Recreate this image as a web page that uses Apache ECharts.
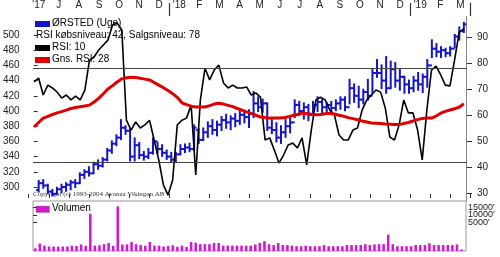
<!DOCTYPE html>
<html><head><meta charset="utf-8">
<script src="https://cdn.jsdelivr.net/npm/echarts@6/dist/echarts.min.js"></script>
<style>html,body{margin:0;padding:0;background:#fff}#c{width:500px;height:257px}</style>
</head><body><div id="c"></div>
<script>
// ---- data ----
const monthLabels = ["'17","J","A","S","O","N","D","'18","F","M","A","M","J","J","A","S","O","N","D","'19","F","M"];
const priceOpen  = [296,305,302,294,291,297,300,303,306,305,316,320,318,330,328,336,348,357,365,378,374,340,355,342,340,345,360,350,345,340,336,343,350,352,350,375,362,372,380,375,382,388,385,390,387,395,392,396,410,405,410,378,375,365,372,380,385,408,400,405,395,408,412,405,408,404,410,415,405,430,420,415,425,420,450,450,440,430,455,440,445,435,430,440,435,445,460,482,478,480,476,482,498,505];
const priceHigh  = [308,309,303,296,299,303,305,308,309,318,322,326,332,335,338,350,360,368,388,380,376,364,358,346,350,364,358,355,348,345,345,355,356,357,381,376,377,385,388,386,392,395,393,396,399,400,401,425,418,415,410,388,384,380,388,390,414,412,410,408,412,418,415,410,412,414,418,418,441,435,432,428,441,454,467,460,471,465,463,455,445,440,445,450,448,467,493,488,484,482,484,500,510,516];
const priceLow   = [294,299,292,289,291,293,295,297,300,305,312,315,318,324,327,335,345,355,363,370,335,335,338,336,338,344,345,341,337,333,334,343,346,347,349,358,362,366,370,368,375,378,376,380,383,385,379,392,400,399,375,371,360,358,366,372,392,395,390,388,395,400,398,399,400,401,403,401,410,412,405,410,415,424,445,430,424,430,432,428,424,424,426,428,425,432,471,472,471,472,473,484,494,504];
const priceClose = [305,302,294,291,297,300,303,306,305,316,320,318,330,328,336,348,357,365,378,374,340,355,342,340,345,360,350,345,340,336,343,350,352,350,378,362,372,380,375,382,388,385,390,387,395,392,396,410,405,410,378,375,365,372,380,385,408,400,405,395,408,412,405,408,404,410,415,405,430,420,415,425,420,450,450,440,430,455,440,445,435,430,440,435,445,460,482,478,480,476,482,498,505,514];
const rsi10 = [72.7,74.2,67.7,71.5,70.4,68.8,66.5,67.7,65.8,67.3,65.8,69.6,81,82.3,85,86.9,88.8,94.6,95.4,92.7,58,54.2,57.3,55,56.2,58,50.4,42.7,33.1,29.2,35,56.2,58,58.8,63.8,36.9,65.8,78,73.5,77.3,79.2,72.3,70.4,71.5,70.4,70.4,70.8,67.7,68.5,66.9,50.4,51.2,46.5,41.5,44.6,48.5,49.2,47.3,51.2,40.8,54.2,65.8,66.9,65.8,61.9,60,52.3,50.4,50.4,54.2,55,61.9,65.8,67.7,69.6,68.8,62.7,51.5,50.4,56.2,65.8,60.8,60.8,54.2,42.7,61.9,77.3,78.8,75.4,71.5,71.2,81.2,91.9,93.1];
const rsiAvg28 = [55.4,57.1,58.8,59.5,60.2,60.8,61.3,61.9,62.5,62.9,63.2,63.5,63.8,65,66.4,68.2,70,71.3,72.7,73.9,74.3,74.5,74.4,74.1,73.8,73.5,72.5,71.5,70.5,69.4,68.2,66.8,64.7,64,63.4,63.1,63.1,63.1,63.6,64.2,64.5,64.2,63.7,63.2,62.5,61.9,61.2,60.6,59.9,59.2,59,58.8,58.8,58.8,58.9,59.3,59.8,60.2,60.7,60.6,60.3,60.1,60.2,60.5,60.7,60.4,59.9,59.5,59,58.6,58.2,57.7,57.3,56.9,56.8,56.7,56.5,56.4,56.3,56.3,56.7,57.1,57.7,58.2,58.7,58.8,58.8,59.6,60.7,61.4,61.9,62.4,63,64.3];
const volume = [900,2500,1800,1500,1500,1500,1500,1500,1800,1700,2200,1700,12500,1800,1900,2300,2700,1700,15000,2200,2200,3000,2300,2000,1800,3000,1800,1800,1500,1700,1900,1400,1800,1400,3000,2800,2300,2300,2300,2700,2700,1800,1800,1800,1800,1800,1800,1800,2200,2700,3300,2300,2000,2700,2000,2000,1800,1600,1600,1800,1600,1600,1600,2000,1600,1600,1600,1600,2000,2000,2000,2000,2300,2000,2200,2300,2300,5500,2300,1600,1600,1600,1600,2000,2000,2000,2600,2000,2000,2000,2000,2000,2200,500];
const buyLevel = 42, sellLevel = 78;
const volTickLabels = ["5000'", "10000'", "15000'"];

// ---- build ----
const DAY = 86400000;
const t0 = Date.UTC(2017,5,9);
const dates = priceClose.map((_, i) => t0 + i * 7 * DAY);
const xMin = Date.UTC(2017,5,1) + 6.5 * DAY;
const xMax = Date.UTC(2017,5,1) + 663.8 * DAY;
const ohlc = dates.map((d, i) => [d, priceOpen[i], priceHigh[i], priceLow[i], priceClose[i]]);
const rsiData = dates.map((d, i) => [d, rsi10[i]]);
const avgData = dates.map((d, i) => [d, rsiAvg28[i]]);
const volData = dates.map((d, i) => [d, volume[i]]);
const last = dates.length - 1;

const FONT = 'Liberation Sans, Arial, sans-serif';
const BLUE = '#1414c8';
const chart = echarts.init(document.getElementById('c'), null, {renderer: 'canvas'});
const hiddenTime = (gi) => ({type: 'time', gridIndex: gi, min: xMin, max: xMax, show: false});

chart.setOption({
  animation: false,
  backgroundColor: '#fff',
  grid: [
    {left: 28.7, right: 29.6, top: 16, height: 182, show: false},            // 0 month axis
    {left: 33, right: 33, top: 35, height: 152, show: false},                // 1 price
    {left: 33, right: 33, top: 37, height: 156, show: false},                // 2 rsi
    {left: 33, right: 34, top: 201, height: 50, show: true, borderColor: '#999', borderWidth: 1}, // 3 volume
    {left: 33, right: 34, top: 207.5, height: 15, show: false}               // 4 volume labels
  ],
  xAxis: [
    {type: 'category', gridIndex: 0, position: 'top', data: monthLabels, boundaryGap: true,
     axisLine: {show: false}, axisTick: {show: true, length: 4, lineStyle: {color: '#333'}},
     axisLabel: {fontSize: 10, color: '#222', fontFamily: FONT, margin: 6}},
    {type: 'category', gridIndex: 0, position: 'top', data: monthLabels, boundaryGap: true,
     axisLine: {show: false}, axisLabel: {show: false},
     axisTick: {show: true, length: 13, interval: (i, v) => v.charAt(0) === "'" && i > 0, lineStyle: {color: '#333', width: 1.2}}},
    hiddenTime(1), hiddenTime(2), hiddenTime(3),
    {type: 'value', gridIndex: 4, show: false}
  ],
  yAxis: [
    {type: 'value', gridIndex: 0, show: false},
    {type: 'value', gridIndex: 1, position: 'left', min: 300, max: 500, interval: 20,
     axisLine: {show: false}, splitLine: {show: false},
     axisTick: {show: true, length: 4, lineStyle: {color: '#333'}},
     axisLabel: {fontSize: 10, color: '#222', fontFamily: FONT, margin: 18}},
    {type: 'value', gridIndex: 2, position: 'right', min: 30, max: 90, interval: 10,
     axisLine: {show: false}, splitLine: {show: false},
     axisTick: {show: true, length: 5, lineStyle: {color: '#333'}},
     axisLabel: {fontSize: 10, color: '#222', fontFamily: FONT, margin: 10}},
    {type: 'value', gridIndex: 3, min: 0, max: 16800, show: false},
    {type: 'category', gridIndex: 4, position: 'right', data: volTickLabels, boundaryGap: false,
     axisLine: {show: false}, splitLine: {show: false},
     axisTick: {show: true, length: 4, interval: 0, alignWithLabel: true, lineStyle: {color: '#333'}},
     axisLabel: {fontSize: 9, color: '#222', fontFamily: FONT, margin: 2, interval: 0, hideOverlap: false}}
  ],
  series: [
    {type: 'custom', name: 'ØRSTED (Uge)', xAxisIndex: 2, yAxisIndex: 1, data: ohlc, clip: false, z: 3,
     encode: {x: 0, y: [1, 2, 3, 4]},
     renderItem: function (params, api) {
       const x = api.value(0);
       const h = api.coord([x, api.value(2)]);
       const l = api.coord([x, api.value(3)]);
       const o = api.coord([x, api.value(1)]);
       const c = api.coord([x, api.value(4)]);
       const st = {stroke: BLUE, lineWidth: 2};
       return {type: 'group', children: [
         {type: 'line', shape: {x1: h[0], y1: h[1] - 1, x2: l[0], y2: l[1] + 1}, style: st},
         {type: 'line', shape: {x1: o[0] - 2.5, y1: o[1], x2: o[0], y2: o[1]}, style: st},
         {type: 'line', shape: {x1: c[0], y1: c[1], x2: c[0] + 2.5, y2: c[1]}, style: st}
       ]};
     }},
    {type: 'scatter', name: 'last', xAxisIndex: 2, yAxisIndex: 1, data: [[dates[last], priceClose[last]]], symbol: 'circle', symbolSize: 4, itemStyle: {color: BLUE}, z: 6, silent: true},
    {type: 'line', name: 'RSI: 10', xAxisIndex: 3, yAxisIndex: 2, data: rsiData, showSymbol: false, clip: false, z: 4,
     lineStyle: {color: '#000', width: 1.6},
     markLine: {silent: true, symbol: 'none', label: {show: false}, lineStyle: {color: '#444', width: 1, type: 'solid'},
       data: [{yAxis: buyLevel}, {yAxis: sellLevel}]}},
    {type: 'line', name: 'Gns. RSI: 28', xAxisIndex: 3, yAxisIndex: 2, data: avgData, showSymbol: false, clip: false, z: 5,
     lineStyle: {color: '#e00000', width: 3}},
    {type: 'bar', name: 'Volumen', xAxisIndex: 4, yAxisIndex: 3, data: volData, barWidth: 2.6, itemStyle: {color: '#d21ad2'}}
  ],
  graphic: [
    {type: 'line', shape: {x1: 466.5, y1: 16, x2: 466.5, y2: 201}, style: {stroke: '#888', lineWidth: 1}, z: 0},
    {type: 'rect', left: 35, top: 21, shape: {width: 15, height: 6}, style: {fill: BLUE}, z: 0},
    {type: 'text', left: 52, top: 18.5, style: {text: 'ØRSTED (Uge)', font: '10px ' + FONT, fill: '#000'}, z: 0},
    {type: 'text', left: 36, top: 30, style: {text: 'RSI købsniveau: ' + buyLevel + ', Salgsniveau: ' + sellLevel, font: '10px ' + FONT, fill: '#000'}, z: 0},
    {type: 'rect', left: 35, top: 45, shape: {width: 15, height: 6}, style: {fill: '#000'}, z: 0},
    {type: 'text', left: 52, top: 42, style: {text: 'RSI: 10', font: '10px ' + FONT, fill: '#000'}, z: 0},
    {type: 'rect', left: 35, top: 57, shape: {width: 15, height: 6}, style: {fill: '#e00000'}, z: 0},
    {type: 'text', left: 52, top: 54, style: {text: 'Gns. RSI: 28', font: '10px ' + FONT, fill: '#000'}, z: 0},
    {type: 'text', left: 33, top: 191, style: {text: 'Copyright (c) 1993-2004 Avanza Vikingen AB', font: '7px Liberation Serif, serif', fill: '#333'}, z: 0},
    {type: 'rect', left: 36, top: 206, shape: {width: 13, height: 6}, style: {fill: '#d21ad2', stroke: '#800080', lineWidth: 0.5}, z: 0},
    {type: 'text', left: 52, top: 203, style: {text: 'Volumen', font: '10px ' + FONT, fill: '#000'}, z: 0}
  ]
});
</script></body></html>
